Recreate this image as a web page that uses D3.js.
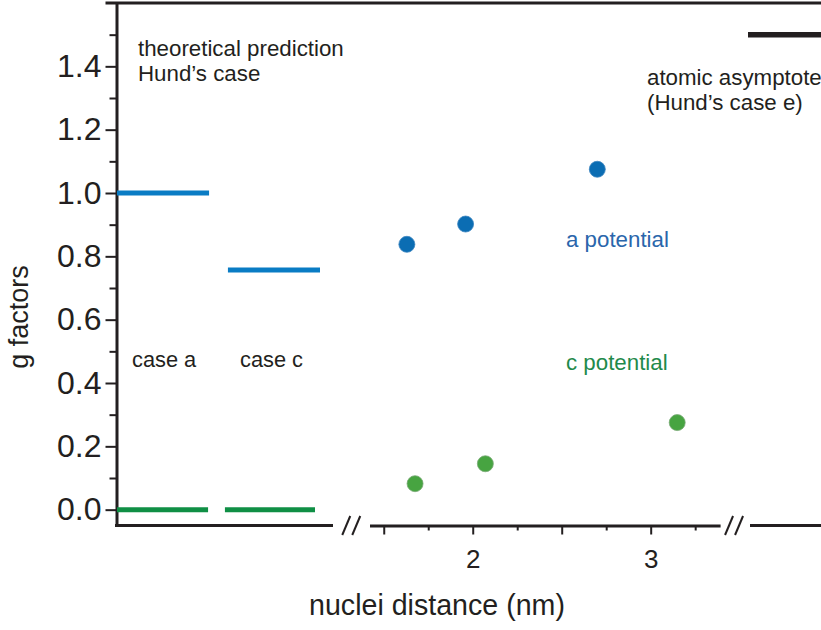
<!DOCTYPE html>
<html>
<head>
<meta charset="utf-8">
<script src="https://cdn.jsdelivr.net/npm/d3@7"></script>
<style>
  html, body { margin: 0; padding: 0; background: #ffffff; }
  svg { display: block; }
  text { font-family: "Liberation Sans", Arial, Helvetica, sans-serif; fill: #231f20; }
</style>
</head>
<body>
<div id="chart"></div>
<script>
// ---------- data ----------
const theoryCases = ["case a", "case c"];
const theoryAValues = [1.0, 0.757];   // blue: a potential prediction
const theoryCValues = [0.0, 0.0];     // green: c potential prediction

const distA = [1.63, 1.96, 2.70];     // nuclei distance (nm), a potential
const gA = [0.838, 0.902, 1.075];
const distC = [1.676, 2.071, 3.149];  // nuclei distance (nm), c potential
const gC = [0.082, 0.145, 0.275];

const asymptoteCases = ["case e"];
const asymptoteValues = [1.5];

const yMajorTicks = [0, 0.2, 0.4, 0.6, 0.8, 1.0, 1.2, 1.4];
const yMinorTicks = [0.1, 0.3, 0.5, 0.7, 0.9, 1.1, 1.3, 1.5];
const xLongTicks = [1.5, 2, 2.5, 3];
const xShortTicks = [1.75, 2.25, 2.75, 3.25];
const xTickLabels = [2, 3];

// ---------- setup ----------
const W = 821, H = 630;
const svg = d3.select("#chart").append("svg").attr("width", W).attr("height", H);

const colBlueLine = "#0a7cc4", colGreenLine = "#0f8f45";
const colBlueDot = "#0b6db3", colGreenDot = "#47a441";
const ink = "#231f20";

const y = d3.scaleLinear().domain([-0.05, 1.6]).range([525.5, 3]);
const axisX = 116.5;
const xTheory = d3.scaleBand().domain(theoryCases).range([117, 320]).paddingInner(0.17).paddingOuter(0);
const xDist = d3.scaleLinear().domain([1.42, 3.39]).range([369.5, 720.1]);
const xAsym = d3.scaleBand().domain(asymptoteCases).range([748, 821]);
const baseY = y.range()[0];

// ---------- top frame line ----------
svg.append("line")
  .attr("x1", axisX - 11).attr("x2", W)
  .attr("y1", y(1.6)).attr("y2", y(1.6))
  .attr("stroke", ink).attr("stroke-width", 3);

// ---------- y axis ----------
const gy = svg.append("g").attr("transform", `translate(${axisX},0)`);
gy.call(d3.axisLeft(y).tickValues(yMajorTicks).tickSize(11).tickSizeOuter(0).tickPadding(4).tickFormat(d3.format(".1f")));
gy.select(".domain").attr("stroke", ink).attr("stroke-width", 3);
gy.selectAll(".tick line").attr("stroke", ink).attr("stroke-width", 2);
gy.selectAll(".tick text").attr("font-size", 32).attr("fill", ink)
  .style("font-family", '"Liberation Sans", Arial, sans-serif');
const gyMinor = svg.append("g").attr("transform", `translate(${axisX},0)`);
gyMinor.call(d3.axisLeft(y).tickValues(yMinorTicks).tickSize(7).tickFormat(""));
gyMinor.select(".domain").remove();
gyMinor.selectAll(".tick line").attr("stroke", ink).attr("stroke-width", 2);

// ---------- bottom axis (broken) ----------
// segment 1: theory region
svg.append("line")
  .attr("x1", axisX - 1.5).attr("x2", xTheory.range()[1] + 13)
  .attr("y1", baseY).attr("y2", baseY)
  .attr("stroke", ink).attr("stroke-width", 3);
// segment 2: distance axis
const gx = svg.append("g").attr("transform", `translate(0,${baseY})`);
gx.call(d3.axisBottom(xDist).tickValues(xLongTicks).tickSize(9).tickSizeOuter(0).tickPadding(15)
  .tickFormat(d => xTickLabels.includes(d) ? d3.format("d")(d) : ""));
gx.select(".domain").attr("stroke", ink).attr("stroke-width", 3);
gx.selectAll(".tick line").attr("stroke", ink).attr("stroke-width", 2);
gx.selectAll(".tick text").attr("font-size", 26).attr("fill", ink)
  .style("font-family", '"Liberation Sans", Arial, sans-serif');
const gxMinor = svg.append("g").attr("transform", `translate(0,${baseY})`);
gxMinor.call(d3.axisBottom(xDist).tickValues(xShortTicks).tickSize(5).tickFormat(""));
gxMinor.select(".domain").remove();
gxMinor.selectAll(".tick line").attr("stroke", ink).attr("stroke-width", 2);
// segment 3: asymptote region
svg.append("line")
  .attr("x1", xAsym.range()[0] + 2).attr("x2", W)
  .attr("y1", baseY).attr("y2", baseY)
  .attr("stroke", ink).attr("stroke-width", 3);

// break marks "//"
const breaks = [(xTheory.range()[1] + 13 + xDist.range()[0]) / 2,
                (xDist.range()[1] + xAsym.range()[0] + 2) / 2 - 1];
breaks.forEach(cx => {
  [-5, 5].forEach(off => {
    svg.append("line")
      .attr("x1", cx + off - 4).attr("y1", baseY + 9.5)
      .attr("x2", cx + off + 4).attr("y2", baseY - 9.5)
      .attr("stroke", ink).attr("stroke-width", 2);
  });
});

// ---------- theory levels ----------
svg.append("g").selectAll("line").data(theoryCases).join("line")
  .attr("x1", d => xTheory(d)).attr("x2", d => xTheory(d) + xTheory.bandwidth())
  .attr("y1", (d, i) => y(theoryAValues[i])).attr("y2", (d, i) => y(theoryAValues[i]))
  .attr("stroke", colBlueLine).attr("stroke-width", 5);
svg.append("g").selectAll("line").data(theoryCases).join("line")
  .attr("x1", (d, i) => xTheory(d) - 3 * i).attr("x2", (d, i) => xTheory(d) + xTheory.bandwidth() - 1 - 4 * i)
  .attr("y1", (d, i) => y(theoryCValues[i])).attr("y2", (d, i) => y(theoryCValues[i]))
  .attr("stroke", colGreenLine).attr("stroke-width", 5);

// asymptote
svg.append("g").selectAll("line").data(asymptoteCases).join("line")
  .attr("x1", d => xAsym(d)).attr("x2", d => xAsym(d) + xAsym.bandwidth())
  .attr("y1", (d, i) => y(asymptoteValues[i])).attr("y2", (d, i) => y(asymptoteValues[i]))
  .attr("stroke", ink).attr("stroke-width", 5.5);

// ---------- measured points ----------
svg.append("g").selectAll("circle").data(distA).join("circle")
  .attr("cx", d => xDist(d)).attr("cy", (d, i) => y(gA[i])).attr("r", 8)
  .attr("fill", colBlueDot).attr("stroke", "#3c85c0").attr("stroke-width", 0.8);
svg.append("g").selectAll("circle").data(distC).join("circle")
  .attr("cx", d => xDist(d)).attr("cy", (d, i) => y(gC[i])).attr("r", 8)
  .attr("fill", colGreenDot).attr("stroke", "#7aa976").attr("stroke-width", 0.8);

// ---------- annotations ----------
function label(x, yy, txt, size, color, anchor) {
  svg.append("text").attr("x", x).attr("y", yy).attr("font-size", size)
    .attr("text-anchor", anchor || "start").style("fill", color || ink).text(txt);
}
label(138, 56, "theoretical prediction", 22.3);
label(138, 81, "Hund’s case", 22.3);
label(647, 85, "atomic asymptote", 22.3);
label(647, 110, "(Hund’s case e)", 22.3);
label(566, 247, "a potential", 22.3, "#2a66ab");
label(566, 370, "c potential", 22.3, "#1f8a4b");
label(132, 367, "case a", 21.8);
label(240, 367, "case c", 21.8);

// axis titles
svg.append("text")
  .attr("transform", `translate(28,${317}) rotate(-90)`)
  .attr("text-anchor", "middle").attr("font-size", 27).style("fill", ink)
  .text("g factors");
svg.append("text")
  .attr("x", 437).attr("y", 615).attr("text-anchor", "middle")
  .attr("font-size", 28.6).style("fill", ink)
  .text("nuclei distance (nm)");
</script>
</body>
</html>
